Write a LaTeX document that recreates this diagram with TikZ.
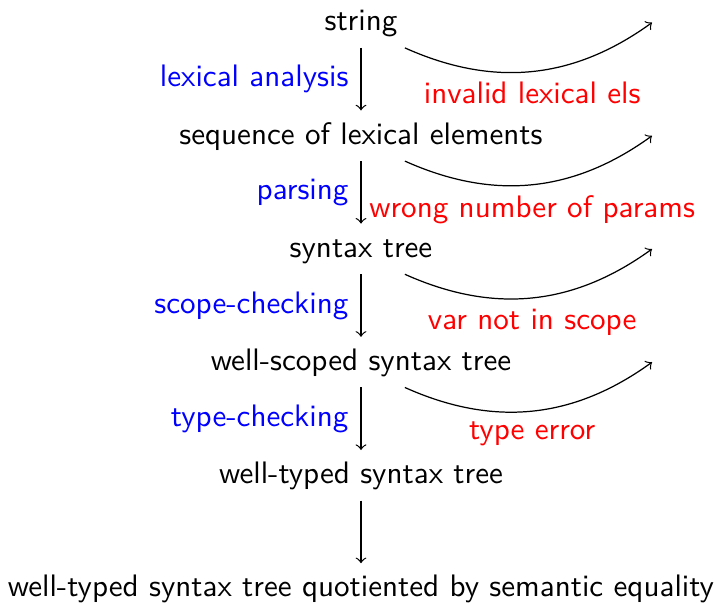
\documentclass[tikz,border=0pt]{standalone}
\begin{document}
\begin{tikzpicture}[x=0.3257pt,y=-0.3257pt,font=\sffamily\fontsize{10.12}{12}\selectfont,
  stage/.style={anchor=base,text height=7.8pt,text depth=2.3pt,inner ysep=3pt,inner xsep=3.33pt},
  pass/.style={text=blue,anchor=east,inner xsep=3.9pt},
  err/.style={text=red,anchor=north,inner sep=3.33pt},
  flow/.style={->,line width=0.4pt},
  fail/.style={->,line width=0.4pt}]
\useasboundingbox (0,0) rectangle (716,603);
\node[stage] (n1) at (361,31) {string};
\node[stage] (n2) at (361,144.2) {sequence of lexical elements};
\node[stage] (n3) at (361,257.4) {syntax tree};
\node[stage] (n4) at (361,370.6) {well-scoped syntax tree};
\node[stage] (n5) at (361,483.8) {well-typed syntax tree};
\node[stage] (n6) at (361,597) {well-typed syntax tree quotiented by semantic equality};
\coordinate (e1) at (652,22.6);
\coordinate (e2) at (652,135.8);
\coordinate (e3) at (652,249.0);
\coordinate (e4) at (652,362.2);
\draw[flow] (n1) -- node[pass,midway] {lexical analysis} (n2);
\draw[flow] (n2) -- node[pass,midway] {parsing} (n3);
\draw[flow] (n3) -- node[pass,midway] {scope-checking} (n4);
\draw[flow] (n4) -- node[pass,midway] {type-checking} (n5);
\draw[flow] (n5) -- (n6);
\draw[fail] (n1.-30) to[bend right=30] node[err] {invalid lexical els} (e1);
\draw[fail] (n2.-30) to[bend right=30] node[err] {wrong number of params} (e2);
\draw[fail] (n3.-30) to[bend right=30] node[err] {var not in scope} (e3);
\draw[fail] (n4.-30) to[bend right=30] node[err] {type error} (e4);
\end{tikzpicture}
\end{document}
